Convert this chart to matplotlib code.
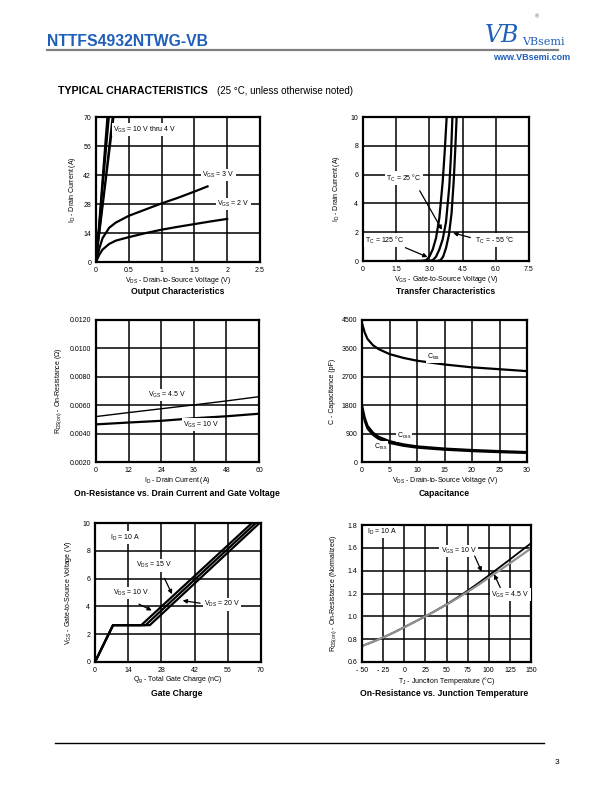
import matplotlib
matplotlib.use("Agg")
import matplotlib.pyplot as plt
import numpy as np

plt.rcParams['font.family'] = ['Liberation Sans', 'DejaVu Sans']
plt.rcParams['mathtext.fontset'] = 'custom'
plt.rcParams['mathtext.rm'] = 'Liberation Sans'
plt.rcParams['mathtext.it'] = 'Liberation Sans:italic'
plt.rcParams['mathtext.bf'] = 'Liberation Sans:bold'

# ---------------- data ----------------
# Output characteristics
out_steep_end_v = [0.17, 0.185, 0.20, 0.25, 0.27]   # VGS 10 V thru 4 V reach 70 A
out_steep_top = 70
out_v3_v = [0, 0.05, 0.1, 0.2, 0.3, 0.5, 0.75, 1.0, 1.25, 1.5, 1.7]
out_v3_i = [0, 6.5, 11.5, 16.5, 19.0, 22.3, 25.3, 28.3, 31.0, 34.0, 36.5]
out_v2_v = [0, 0.05, 0.1, 0.2, 0.3, 0.5, 0.75, 1.0, 1.25, 1.5, 1.75, 2.0]
out_v2_i = [0, 3.5, 6.0, 8.7, 10.3, 12.0, 13.9, 15.6, 17.0, 18.3, 19.6, 20.8]

# Transfer characteristics
tr_125_v = [2.0, 2.6, 2.85, 3.0, 3.15, 3.3, 3.45, 3.6, 3.7, 3.78]
tr_125_i = [0, 0, 0.05, 0.3, 0.8, 1.6, 3.0, 5.5, 7.8, 10]
tr_25_v = [2.0, 2.95, 3.15, 3.3, 3.45, 3.6, 3.75, 3.9, 3.98, 4.04]
tr_25_i = [0, 0, 0.05, 0.3, 0.8, 1.5, 2.7, 5.2, 7.5, 10]
tr_m55_v = [2.0, 3.3, 3.5, 3.62, 3.75, 3.88, 4.0, 4.1, 4.17, 4.23]
tr_m55_i = [0, 0, 0.05, 0.3, 0.9, 1.8, 3.3, 5.6, 7.8, 10]

# On-resistance vs drain current
rd_id = [0, 12, 24, 36, 48, 60]
rd_45 = [0.00520, 0.00548, 0.00575, 0.00602, 0.00630, 0.00660]
rd_10 = [0.00465, 0.00478, 0.00490, 0.00508, 0.00522, 0.00540]

# Capacitance
cap_v = [0, 0.5, 1, 2, 3, 5, 7.5, 10, 15, 20, 25, 30]
cap_ciss = [4400, 4100, 3900, 3700, 3580, 3420, 3300, 3210, 3090, 3000, 2940, 2880]
cap_coss = [1800, 1400, 1150, 930, 800, 660, 560, 495, 425, 380, 345, 315]
cap_crss = [1700, 1300, 1060, 860, 735, 605, 515, 455, 390, 345, 312, 288]

# Gate charge
gc_q10 = [0, 7.6, 19.5, 66.2]
gc_q15 = [0, 7.6, 21.3, 67.8]
gc_q20 = [0, 7.6, 23.1, 69.4]
gc_vgs = [0, 2.65, 2.65, 10]

# On-resistance vs junction temperature
tj = [-50, -37.5, -25, -12.5, 0, 12.5, 25, 37.5, 50, 62.5, 75, 87.5, 100, 112.5, 125, 137.5, 150]
rn_10 = [0.740, 0.776, 0.815, 0.858, 0.905, 0.952, 1.0, 1.051, 1.105, 1.163, 1.225,
         1.290, 1.358, 1.428, 1.498, 1.569, 1.640]
rn_45 = [0.740, 0.776, 0.815, 0.858, 0.905, 0.952, 1.0, 1.050, 1.102, 1.157, 1.215,
         1.275, 1.338, 1.401, 1.465, 1.530, 1.595]

# ---------------- figure ----------------
W, H = 612, 792
fig = plt.figure(figsize=(W / 100, H / 100), dpi=100)


def add_ax(x0, y0, x1, y1):
    return fig.add_axes([x0 / W, 1 - y1 / H, (x1 - x0) / W, (y1 - y0) / H])


def style(ax, xlim, ylim, xt, yt, xtl=None, ytl=None):
    ax.set_xlim(*xlim)
    ax.set_ylim(*ylim)
    ax.set_xticks(xt)
    ax.set_yticks(yt)
    if xtl is not None:
        ax.set_xticklabels(xtl)
    if ytl is not None:
        ax.set_yticklabels(ytl)
    ax.grid(True, color='black', linewidth=1.1)
    ax.set_axisbelow(True)
    for s in ax.spines.values():
        s.set_linewidth(1.6)
    ax.tick_params(length=0, labelsize=5, pad=3.5)


def ftext(x, y, s, **kw):
    fig.text(x / W, 1 - y / H, s, **kw)


lw = 1.6

# Header
ftext(47, 41, "NTTFS4932NTWG-VB", fontsize=11.3, fontweight='bold', color='#1f5fb8',
      va='center', ha='left')
fig.add_artist(plt.Line2D([47 / W, 558 / W], [1 - 50 / H, 1 - 50 / H], color='#808080', linewidth=1.6))
ftext(502, 35, "VB", fontsize=17, family='DejaVu Serif', style='italic', color='#1f5fb8',
      va='center', ha='center')
ftext(537, 17, "®", fontsize=4, color='#606060', va='center', ha='center')
ftext(522, 42, "VBsemi", fontsize=8, family='DejaVu Serif', color='#1f5fb8', va='center', ha='left')
ftext(570, 57, "www.VBsemi.com", fontsize=6.5, fontweight='bold', color='#1f5fb8',
      va='center', ha='right')

ftext(58, 91, "TYPICAL CHARACTERISTICS", fontsize=7.7, fontweight='heavy', va='center', ha='left')
ftext(217, 91, "(25 °C, unless otherwise noted)", fontsize=7, va='center', ha='left')

# Footer
fig.add_artist(plt.Line2D([55 / W, 544 / W], [1 - 743 / H, 1 - 743 / H], color='black', linewidth=1.0))
ftext(557, 762, "3", fontsize=6, va='center', ha='center')

bb = dict(facecolor='white', edgecolor='none', pad=0.8)
fs = 5
tfs = 6.2
xlp = 0.5

# ---- Panel 1: Output characteristics ----
ax1 = add_ax(96, 117, 260, 262)
style(ax1, (0, 2.5), (0, 70), [0, 0.5, 1, 1.5, 2, 2.5], [0, 14, 28, 42, 56, 70],
      ["0", "0.5", "1", "1.5", "2", "2.5"])
for ve in out_steep_end_v:
    ax1.plot([0, ve], [0, out_steep_top], color='black', linewidth=1.2, clip_on=True)
ax1.plot(out_v3_v, out_v3_i, color='black', linewidth=lw)
ax1.plot(out_v2_v, out_v2_i, color='black', linewidth=lw)
ax1.text(0.26, 64, "V$_{\\mathrm{GS}}$ = 10 V thru 4 V", fontsize=fs, va='center', ha='left', bbox=bb)
ax1.text(1.62, 42, "V$_{\\mathrm{GS}}$ = 3 V", fontsize=fs, va='center', ha='left', bbox=bb)
ax1.text(1.85, 28, "V$_{\\mathrm{GS}}$ = 2 V", fontsize=fs, va='center', ha='left', bbox=bb)
ax1.set_xlabel("V$_{\\mathrm{DS}}$ - Drain-to-Source Voltage (V)", fontsize=5, labelpad=xlp)
ax1.set_ylabel("I$_{\\mathrm{D}}$ - Drain Current (A)", fontsize=5, labelpad=4)
ftext(178, 291, "Output Characteristics", fontsize=tfs, fontweight='bold', ha='center', va='center')

# ---- Panel 2: Transfer characteristics ----
ax2 = add_ax(363, 117, 529, 261)
style(ax2, (0, 7.5), (0, 10), [0, 1.5, 3.0, 4.5, 6.0, 7.5], [0, 2, 4, 6, 8, 10],
      ["0", "1.5", "3.0", "4.5", "6.0", "7.5"])
ax2.plot(tr_125_v, tr_125_i, color='black', linewidth=lw)
ax2.plot(tr_25_v, tr_25_i, color='black', linewidth=lw)
ax2.plot(tr_m55_v, tr_m55_i, color='black', linewidth=lw)
ax2.text(1.05, 5.75, "T$_{\\mathrm{C}}$ = 25 °C", fontsize=fs, va='center', ha='left', bbox=bb)
ax2.annotate("", xy=(3.63, 2.0), xytext=(2.5, 5.05),
             arrowprops=dict(arrowstyle='-|>', color='black', lw=0.9, mutation_scale=6))
ax2.text(0.1, 1.45, "T$_{\\mathrm{C}}$ = 125 °C", fontsize=fs, va='center', ha='left', bbox=bb)
ax2.annotate("", xy=(3.03, 0.2), xytext=(1.8, 1.0),
             arrowprops=dict(arrowstyle='-|>', color='black', lw=0.9, mutation_scale=6))
ax2.text(5.05, 1.45, "T$_{\\mathrm{C}}$ = - 55 °C", fontsize=fs, va='center', ha='left', bbox=bb)
ax2.annotate("", xy=(3.95, 2.0), xytext=(4.97, 1.58),
             arrowprops=dict(arrowstyle='-|>', color='black', lw=0.9, mutation_scale=6))
ax2.set_xlabel("V$_{\\mathrm{GS}}$ - Gate-to-Source Voltage (V)", fontsize=5, labelpad=xlp)
ax2.set_ylabel("I$_{\\mathrm{D}}$ - Drain Current (A)", fontsize=5, labelpad=6)
ftext(446, 291, "Transfer Characteristics", fontsize=tfs, fontweight='bold', ha='center', va='center')

# ---- Panel 3: On-resistance vs drain current ----
ax3 = add_ax(96, 320, 259, 462)
yt3 = [0.002, 0.004, 0.006, 0.008, 0.010, 0.012]
style(ax3, (0, 60), (0.002, 0.012), [0, 12, 24, 36, 48, 60], yt3,
      ["0", "12", "24", "36", "48", "60"], ["%.4f" % v for v in yt3])
ax3.plot(rd_id, rd_45, color='black', linewidth=1.0)
ax3.plot(rd_id, rd_10, color='black', linewidth=lw)
ax3.text(19, 0.00672, "V$_{\\mathrm{GS}}$ = 4.5 V", fontsize=fs, va='center', ha='left', bbox=bb)
ax3.text(32, 0.00463, "V$_{\\mathrm{GS}}$ = 10 V", fontsize=fs, va='center', ha='left', bbox=bb)
ax3.set_xlabel("I$_{\\mathrm{D}}$ - Drain Current (A)", fontsize=5, labelpad=xlp)
ax3.set_ylabel("R$_{\\mathrm{DS(on)}}$ - On-Resistance (Ω)", fontsize=5, labelpad=4)
ftext(177, 493, "On-Resistance vs. Drain Current and Gate Voltage", fontsize=tfs,
      fontweight='bold', ha='center', va='center')

# ---- Panel 4: Capacitance ----
ax4 = add_ax(362, 320, 527, 462)
style(ax4, (0, 30), (0, 4500), [0, 5, 10, 15, 20, 25, 30], [0, 900, 1800, 2700, 3600, 4500])
ax4.plot(cap_v, cap_ciss, color='black', linewidth=lw)
ax4.plot(cap_v, cap_coss, color='black', linewidth=lw)
ax4.plot(cap_v, cap_crss, color='black', linewidth=lw)
ax4.text(11.8, 3330, "C$_{\\mathrm{iss}}$", fontsize=fs, va='center', ha='left', bbox=bb)
ax4.text(6.3, 820, "C$_{\\mathrm{oss}}$", fontsize=fs, va='center', ha='left', bbox=bb)
ax4.text(2.1, 470, "C$_{\\mathrm{rss}}$", fontsize=fs, va='center', ha='left', bbox=bb)
ax4.set_xlabel("V$_{\\mathrm{DS}}$ - Drain-to-Source Voltage (V)", fontsize=5, labelpad=xlp)
ax4.set_ylabel("C - Capacitance (pF)", fontsize=5, labelpad=4)
ftext(444, 493, "Capacitance", fontsize=tfs, fontweight='bold', ha='center', va='center')

# ---- Panel 5: Gate charge ----
ax5 = add_ax(95, 523, 261, 662)
style(ax5, (0, 70), (0, 10), [0, 14, 28, 42, 56, 70], [0, 2, 4, 6, 8, 10])
for q in (gc_q10, gc_q15, gc_q20):
    ax5.plot(q, gc_vgs, color='black', linewidth=lw)
ax5.text(6.3, 8.95, "I$_{\\mathrm{D}}$ = 10 A", fontsize=fs, va='center', ha='left', bbox=bb)
ax5.text(17.5, 6.95, "V$_{\\mathrm{DS}}$ = 15 V", fontsize=fs, va='center', ha='left', bbox=bb)
ax5.annotate("", xy=(33.0, 4.7), xytext=(28.8, 6.2),
             arrowprops=dict(arrowstyle='-|>', color='black', lw=0.9, mutation_scale=6))
ax5.text(7.5, 4.95, "V$_{\\mathrm{DS}}$ = 10 V", fontsize=fs, va='center', ha='left', bbox=bb)
ax5.annotate("", xy=(25.0, 3.62), xytext=(17.5, 4.25),
             arrowprops=dict(arrowstyle='-|>', color='black', lw=0.9, mutation_scale=6))
ax5.text(46, 4.15, "V$_{\\mathrm{DS}}$ = 20 V", fontsize=fs, va='center', ha='left', bbox=bb)
ax5.annotate("", xy=(35.8, 4.45), xytext=(45.5, 4.2),
             arrowprops=dict(arrowstyle='-|>', color='black', lw=0.9, mutation_scale=6))
ax5.set_xlabel("Q$_{\\mathrm{g}}$ - Total Gate Charge (nC)", fontsize=5, labelpad=xlp)
ax5.set_ylabel("V$_{\\mathrm{GS}}$ - Gate-to-Source Voltage (V)", fontsize=5, labelpad=6)
ftext(177, 693, "Gate Charge", fontsize=tfs, fontweight='bold', ha='center', va='center')

# ---- Panel 6: On-resistance vs junction temperature ----
ax6 = add_ax(362, 525, 531, 662)
xt6 = [-50, -25, 0, 25, 50, 75, 100, 125, 150]
yt6 = [0.6, 0.8, 1.0, 1.2, 1.4, 1.6, 1.8]
style(ax6, (-50, 150), (0.6, 1.8), xt6, yt6,
      [("- %d" % -v) if v < 0 else str(v) for v in xt6], ["%.1f" % v for v in yt6])
ax6.plot(tj, rn_10, color='black', linewidth=1.3)
ax6.plot(tj, rn_45, color='#909090', linewidth=lw)
ax6.text(-44, 1.74, "I$_{\\mathrm{D}}$ = 10 A", fontsize=fs, va='center', ha='left', bbox=bb)
ax6.text(43, 1.57, "V$_{\\mathrm{GS}}$ = 10 V", fontsize=fs, va='center', ha='left', bbox=bb)
ax6.annotate("", xy=(93, 1.37), xytext=(82, 1.55),
             arrowprops=dict(arrowstyle='-|>', color='black', lw=0.9, mutation_scale=6))
ax6.text(103, 1.19, "V$_{\\mathrm{GS}}$ = 4.5 V", fontsize=fs, va='center', ha='left', bbox=bb)
ax6.annotate("", xy=(105, 1.39), xytext=(115, 1.23),
             arrowprops=dict(arrowstyle='-|>', color='black', lw=0.9, mutation_scale=6))
ax6.set_xlabel("T$_{\\mathrm{J}}$ - Junction Temperature (°C)", fontsize=5, labelpad=xlp)
ax6.set_ylabel("R$_{\\mathrm{DS(on)}}$ - On-Resistance (Normalized)", fontsize=5, labelpad=6)
ftext(444, 693, "On-Resistance vs. Junction Temperature", fontsize=tfs, fontweight='bold',
      ha='center', va='center')

fig.savefig("out.png", dpi=100)
